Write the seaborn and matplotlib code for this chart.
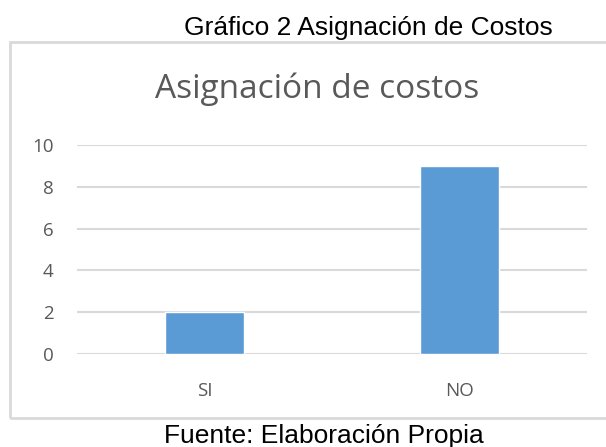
import pandas as pd
import matplotlib.pyplot as plt
import matplotlib.patches as patches
import seaborn as sns

# Datos del gráfico
categorias = ["SI", "NO"]
valores = [2, 9]

titulo_grafico = "Asignación de costos"
leyenda_superior = "Gráfico 2 Asignación de Costos"
fuente = "Fuente: Elaboración Propia"

sns.set_theme(style="white")
plt.rcParams['font.family'] = ['Open Sans', 'DejaVu Sans']

df = pd.DataFrame({'categoria': categorias, 'valor': valores})

fig = plt.figure(figsize=(6.06, 4.47), dpi=100)
ax = fig.add_axes([77 / 606, 1 - 354 / 447, 510 / 606, 209 / 447])

sns.barplot(data=df, x='categoria', y='valor', color='#5b9bd5',
            width=0.31, saturation=1, ax=ax, zorder=3)

ax.set_ylim(0, 10)
ax.set_xlim(-0.5, 1.5)
ax.set_yticks([0, 2, 4, 6, 8, 10])
ax.yaxis.grid(True, color='#d9d9d9', linewidth=1.5, zorder=0)
ax.set_axisbelow(True)
for s in ax.spines.values():
    s.set_visible(False)
ax.set_xlabel('')
ax.set_ylabel('')
ax.tick_params(axis='y', length=0, pad=17, labelsize=13.5, labelcolor='#595959')
ax.tick_params(axis='x', length=0, pad=20, labelsize=13.5, labelcolor='#595959')

# Marco del área del gráfico
marco = patches.Rectangle((10 / 606, 1 - 418 / 447), 600 / 606, 376 / 447,
                          transform=fig.transFigure, fill=False,
                          edgecolor='#d9d9d9', linewidth=2, clip_on=False)
fig.patches.append(marco)

fig.text(317 / 606, 1 - 98 / 447, titulo_grafico, ha='center', va='baseline',
         fontsize=24, color='#595959')
fig.text(368 / 606, 1 - 35 / 447, leyenda_superior, ha='center', va='baseline',
         fontsize=19, color='black', family=['Liberation Sans'])
fig.text(324 / 606, 1 - 443 / 447, fuente, ha='center', va='baseline',
         fontsize=19, color='black', family=['Liberation Sans'])

plt.savefig('out.png', dpi=100)
